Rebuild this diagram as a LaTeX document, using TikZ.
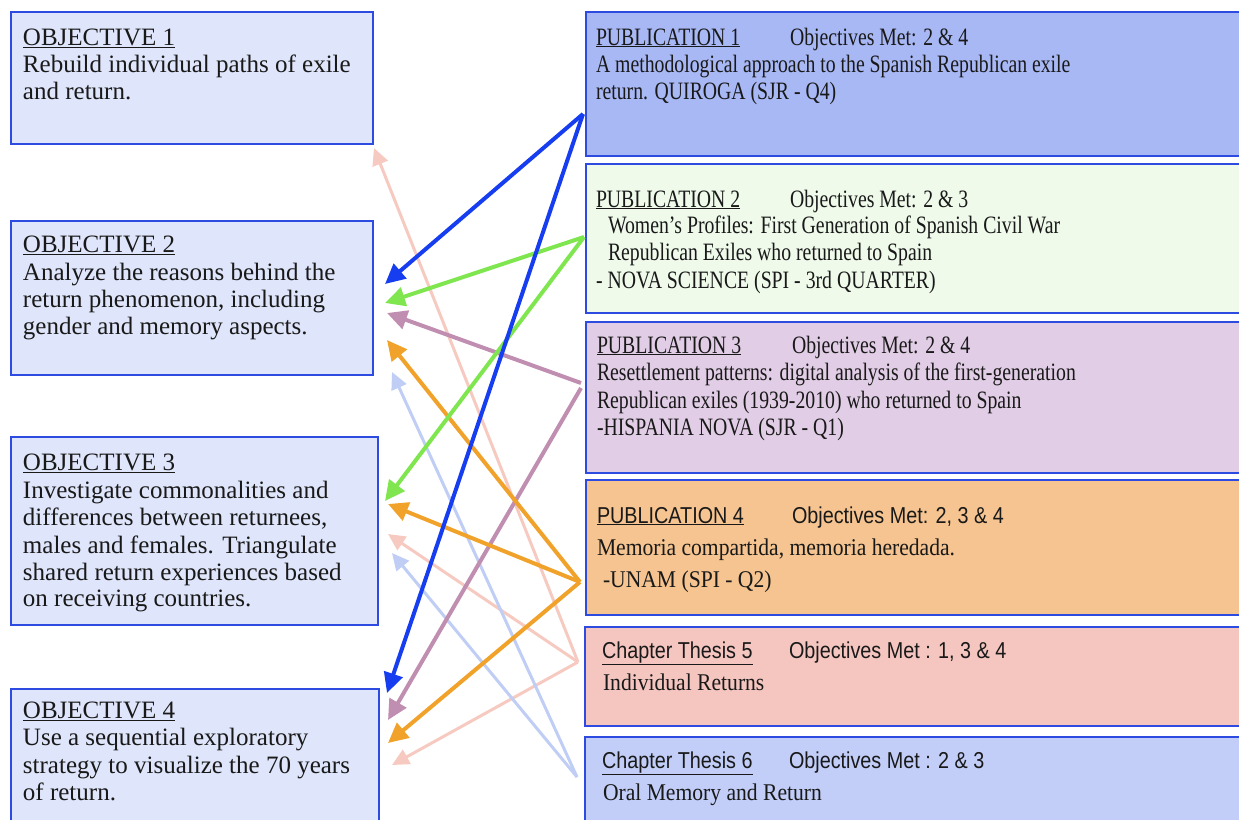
\documentclass[tikz,border=0pt]{standalone}
\usepackage{fontspec}
\setmainfont{Liberation Serif}
\newfontfamily\pubserif[FakeStretch=0.79]{Liberation Serif}
\newfontfamily\lowserif[FakeStretch=0.9]{Liberation Serif}
\newfontfamily\pubsans[FakeStretch=0.86]{Liberation Sans}
\usetikzlibrary{arrows.meta}
\definecolor{objfill}{RGB}{223,229,250}
\definecolor{bordc}{RGB}{45,75,225}
\definecolor{pubA}{RGB}{168,184,245}
\definecolor{pubB}{RGB}{239,250,235}
\definecolor{pubC}{RGB}{225,205,229}
\definecolor{pubD}{RGB}{245,196,144}
\definecolor{chapE}{RGB}{245,198,192}
\definecolor{chapF}{RGB}{194,206,248}
\definecolor{txtc}{RGB}{25,25,25}
\definecolor{arrBlue}{RGB}{22,62,240}
\definecolor{arrGreen}{RGB}{128,230,80}
\definecolor{arrMauve}{RGB}{192,142,176}
\definecolor{arrOrange}{RGB}{240,162,42}
\definecolor{arrPink}{RGB}{246,202,192}
\definecolor{arrLight}{RGB}{192,206,246}
\newcommand\mytxt[5][]{\node[txt,#1] (#2) at (#3,#4) {#5};}
\begin{document}
\begin{tikzpicture}[x=1pt,y=-1pt,
  objbox/.style={draw=bordc,fill=objfill,line width=1.5pt,anchor=north west,minimum width=362pt,inner sep=0},
  pubbox/.style={draw=bordc,line width=1.8pt,anchor=north west,minimum width=670pt,inner sep=0},
  txt/.style={anchor=base west,inner sep=0,outer sep=0,text=txtc,font=\fontsize{25}{27}\selectfont},
  ptxt/.style={font=\fontsize{25}{27}\pubserif},
  ltxt/.style={font=\fontsize{24}{27}\lowserif},
  stxt/.style={font=\fontsize{23}{27}\pubsans},
  conn/.style={line width=4pt,-{Triangle[length=20pt,width=19pt]}},
  connthin/.style={line width=3pt,-{Triangle[length=17pt,width=16pt]}}]
\useasboundingbox (0,0) rectangle (1239,819);
\clip (0,0) rectangle (1239,819);
% left boxes
\node[objbox,minimum height=132pt] (o1) at (10,11) {};
\node[objbox,minimum height=154pt] (o2) at (10,220) {};
\node[objbox,minimum width=367pt,minimum height=188pt] (o3) at (10,436) {};
\node[objbox,minimum width=368pt,minimum height=150pt] (o4) at (10,688) {};
% right boxes
\node[pubbox,fill=pubA,minimum height=144pt] (p1) at (585,11) {};
\node[pubbox,fill=pubB,minimum height=149pt] (p2) at (585,163) {};
\node[pubbox,fill=pubC,minimum height=151pt] (p3) at (585,321) {};
\node[pubbox,fill=pubD,minimum height=135pt] (p4) at (585,479) {};
\node[pubbox,fill=chapE,minimum height=99pt] (c5) at (584,626) {};
\node[pubbox,fill=chapF,minimum height=120pt] (c6) at (584,736) {};
% objective texts
\mytxt{o1t}{23}{45}{\underline{OBJECTIVE 1}}
\mytxt{o1a}{23}{72}{Rebuild individual paths of exile}
\mytxt{o1b}{23}{99}{and return.}
\mytxt{o2t}{23}{252}{\underline{OBJECTIVE 2}}
\mytxt{o2a}{23}{280}{Analyze the reasons behind the}
\mytxt{o2b}{23}{307}{return phenomenon, including}
\mytxt{o2c}{23}{334}{gender and memory aspects.}
\mytxt{o3t}{23}{470}{\underline{OBJECTIVE 3}}
\mytxt{o3a}{23}{498}{Investigate commonalities and}
\mytxt{o3b}{23}{525}{differences between returnees,}
\mytxt{o3c}{23}{553}{males and females. Triangulate}
\mytxt{o3d}{23}{580}{shared return experiences based}
\mytxt{o3e}{23}{606}{on receiving countries.}
\mytxt{o4t}{23}{718}{\underline{OBJECTIVE 4}}
\mytxt{o4a}{23}{745}{Use a sequential exploratory}
\mytxt{o4b}{23}{773}{strategy to visualize the 70 years}
\mytxt{o4c}{23}{800}{of return.}
% publication texts
\mytxt[ptxt]{p1t}{596}{45}{\underline{PUBLICATION 1}}
\mytxt[ptxt]{p1m}{790}{45}{Objectives Met: 2 \& 4}
\mytxt[ptxt]{p1a}{596}{72}{A methodological approach to the Spanish Republican exile}
\mytxt[ptxt]{p1b}{596}{99}{return. QUIROGA (SJR - Q4)}
\mytxt[ptxt]{p2t}{596}{207}{\underline{PUBLICATION 2}}
\mytxt[ptxt]{p2m}{790}{207}{Objectives Met: 2 \& 3}
\mytxt[ptxt]{p2a}{608}{233}{Women’s Profiles: First Generation of Spanish Civil War}
\mytxt[ptxt]{p2b}{608}{260}{Republican Exiles who returned to Spain}
\mytxt[ptxt]{p2c}{596}{288}{- NOVA SCIENCE (SPI - 3rd QUARTER)}
\mytxt[ptxt]{p3t}{597}{353}{\underline{PUBLICATION 3}}
\mytxt[ptxt]{p3m}{792}{353}{Objectives Met: 2 \& 4}
\mytxt[ptxt]{p3a}{597}{380}{Resettlement patterns: digital analysis of the first-generation}
\mytxt[ptxt]{p3b}{597}{408}{Republican exiles (1939-2010) who returned to Spain}
\mytxt[ptxt]{p3c}{597}{435}{-HISPANIA NOVA (SJR - Q1)}
\mytxt[stxt]{p4t}{597}{523}{\underline{PUBLICATION 4}}
\mytxt[stxt]{p4m}{792}{523}{Objectives Met: 2, 3 \& 4}
\mytxt[ltxt]{p4a}{597}{555}{Memoria compartida, memoria heredada.}
\mytxt[ltxt]{p4b}{603}{587}{-UNAM (SPI - Q2)}
\mytxt[stxt]{c5t}{602}{658}{\underline{Chapter Thesis 5}}
\mytxt[stxt]{c5m}{789}{658}{Objectives Met : 1, 3 \& 4}
\mytxt[ltxt]{c5a}{603}{690}{Individual Returns}
\mytxt[stxt]{c6t}{602}{768}{\underline{Chapter Thesis 6}}
\mytxt[stxt]{c6m}{789}{768}{Objectives Met : 2 \& 3}
\mytxt[ltxt]{c6a}{603}{800}{Oral Memory and Return}
% connector anchors
\coordinate (s1) at (583,114);
\coordinate (s2) at (584,237);
\coordinate (s3a) at (581,383);
\coordinate (s3b) at (581,388);
\coordinate (s4) at (580,582);
\coordinate (s5) at (578,662);
\coordinate (s6) at (577,777);
\coordinate (e1b) at (385,284);
\coordinate (e4b) at (387,693);
\coordinate (e2g) at (385,303);
\coordinate (e3g) at (385,501);
\coordinate (e2m) at (387,313);
\coordinate (e4m) at (388,720);
\coordinate (e2o) at (387,340);
\coordinate (e3o) at (388,504);
\coordinate (e4o) at (388,743);
\coordinate (e1p) at (374,148);
\coordinate (e3p) at (388,534);
\coordinate (e4p) at (392,765);
\coordinate (e2l) at (392,372);
\coordinate (e3l) at (392,553);
% connectors
\draw[connthin,arrPink] (s5) -- (e1p);
\draw[connthin,arrPink] (s5) -- (e3p);
\draw[connthin,arrPink] (s5) -- (e4p);
\draw[connthin,arrLight] (s6) -- (e2l);
\draw[connthin,arrLight] (s6) -- (e3l);
\draw[conn,arrMauve] (s3a) -- (e2m);
\draw[conn,arrMauve] (s3b) -- (e4m);
\draw[conn,arrOrange] (s4) -- (e2o);
\draw[conn,arrOrange] (s4) -- (e3o);
\draw[conn,arrOrange] (s4) -- (e4o);
\draw[conn,arrGreen] (s2) -- (e2g);
\draw[conn,arrGreen] (s2) -- (e3g);
\draw[conn,arrBlue] (s1) -- (e1b);
\draw[conn,arrBlue] (s1) -- (e4b);
\end{tikzpicture}
\end{document}
